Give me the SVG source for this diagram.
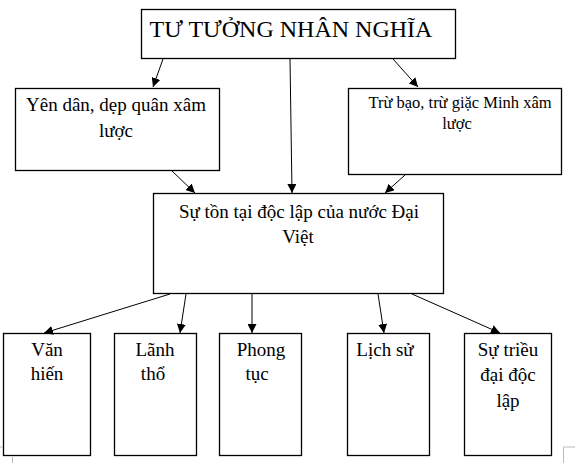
<svg xmlns="http://www.w3.org/2000/svg" width="575" height="463" viewBox="0 0 575 463">
<defs>
<marker id="ah" viewBox="0 0 10 10" refX="10" refY="5" markerWidth="9" markerHeight="9" markerUnits="userSpaceOnUse" orient="auto">
<path d="M0,0 L10,5 L0,10 z" fill="#000"/>
</marker>
<style>
.box{fill:#fff;stroke:#000;stroke-width:1.3}
.t{font-family:"Liberation Serif","Times New Roman",serif;font-size:19px;fill:#000;text-anchor:middle}
.s{font-size:16.5px}
.ttl{font-size:24px}
.c{stroke:#000;stroke-width:1;fill:none;marker-end:url(#ah)}
.m{stroke:#bbb;stroke-width:1;fill:none}
</style>
</defs>
<rect width="575" height="463" fill="#fff"/>
<g id="n-title"><rect class="box" x="141.5" y="9.5" width="314" height="49"/><text class="t ttl" x="291" y="37">TƯ TƯỞNG NHÂN NGHĨA</text></g>
<g id="n-left"><rect class="box" x="15.5" y="88.5" width="204" height="82"/><text class="t" x="116" y="111">Yên dân, dẹp quân xâm</text><text class="t" x="116" y="137">lược</text></g>
<g id="n-right"><rect class="box" x="348.5" y="88.5" width="213" height="86"/><text class="t s" x="460" y="108">Trừ bạo, trừ giặc Minh xâm</text><text class="t s" x="457" y="129">lược</text></g>
<g id="n-center"><rect class="box" x="153.5" y="193.5" width="290" height="100"/><text class="t" x="299" y="218">Sự tồn tại độc lập của nước Đại</text><text class="t" x="298" y="243">Việt</text></g>
<g id="n-b1"><rect class="box" x="3.5" y="333.5" width="87" height="122"/><text class="t" x="47" y="356">Văn</text><text class="t" x="47" y="380">hiến</text></g>
<g id="n-b2"><rect class="box" x="114.5" y="333.5" width="82" height="122"/><text class="t" x="155" y="356">Lãnh</text><text class="t" x="153" y="380">thổ</text></g>
<g id="n-b3"><rect class="box" x="219.5" y="333.5" width="82" height="122"/><text class="t" x="261" y="356">Phong</text><text class="t" x="257" y="380">tục</text></g>
<g id="n-b4"><rect class="box" x="347.5" y="333.5" width="82" height="122"/><text class="t" x="385" y="356">Lịch sử</text></g>
<g id="n-b5"><rect class="box" x="464.5" y="333.5" width="87" height="122"/><text class="t" x="508" y="356">Sự triều</text><text class="t" x="508" y="381">đại độc</text><text class="t" x="508" y="407">lập</text></g>
<g id="connectors">
<line class="c" x1="163" y1="59" x2="153" y2="87"/>
<line class="c" x1="290" y1="59" x2="292" y2="193"/>
<line class="c" x1="393" y1="59" x2="418" y2="87"/>
<line class="c" x1="172" y1="171" x2="195" y2="193"/>
<line class="c" x1="405" y1="175" x2="385" y2="193"/>
<line class="c" x1="170" y1="294" x2="44" y2="333"/>
<line class="c" x1="186" y1="294" x2="180" y2="333"/>
<line class="c" x1="252" y1="294" x2="252" y2="333"/>
<line class="c" x1="378" y1="294" x2="384" y2="333"/>
<line class="c" x1="412" y1="294" x2="500" y2="333"/>
</g>
<path class="m" d="M0,447 H3 M12.5,457 V463 M575,447 H563.5 V463"/>
</svg>
